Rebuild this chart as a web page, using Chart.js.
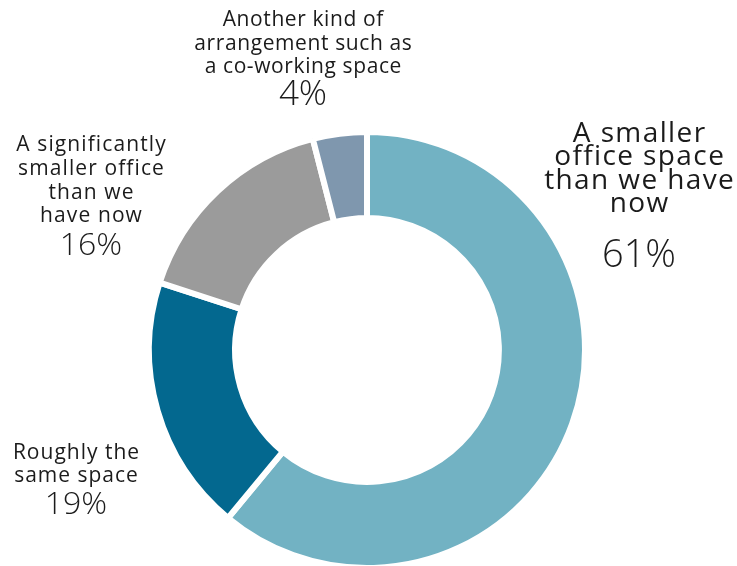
<!DOCTYPE html>
<html>
<head>
<meta charset="utf-8">
<script src="https://cdn.jsdelivr.net/npm/chart.js@4/dist/chart.umd.min.js"></script>
<style>
  html, body { margin: 0; padding: 0; background: #fff; }
  #wrap { width: 737px; height: 566px; }
</style>
</head>
<body>
<div id="wrap"><canvas id="officeChart" width="737" height="566"></canvas></div>
<script>
// ── Future office space preference (doughnut) ──────────────
const categories = [
  'A smaller office space than we have now',
  'Roughly the same space',
  'A significantly smaller office than we have now',
  'Another kind of arrangement such as a co-working space'
];
const shares = [61, 19, 16, 4];
const sliceColors = ['#72B2C3', '#03688F', '#9B9B9B', '#7F97AE'];

// label text split into lines, same order as categories
const labelLines = [
  ['A smaller', 'office space', 'than we have', 'now'],
  ['Roughly the', 'same space'],
  ['A significantly', 'smaller office', 'than we', 'have now'],
  ['Another kind of', 'arrangement such as', 'a co-working space']
];

// where each label block sits (centre x, first baseline y) and how big
const labelLayout = [
  { x: 639, y: 141.5, size: 28, track: 1.4, lead: 23.5, pctSize: 38, pctY: 267 },
  { x: 76,  y: 458.5, size: 21, track: 1.0, lead: 23.5, pctSize: 32, pctY: 513.5 },
  { x: 91,  y: 151,   size: 21, track: 1.1, lead: 23.8, pctSize: 32, pctY: 255 },
  { x: 303, y: 26,    size: 21, track: 0.6, lead: 23.5, pctSize: 35, pctY: 105 }
];

const TEXT_FONT = '"Open Sans", Lato, sans-serif';

const outsideLabels = {
  id: 'outsideLabels',
  afterDraw(chart) {
    const { ctx } = chart;
    const values = chart.data.datasets[0].data;
    ctx.save();
    ctx.fillStyle = '#1b1b1b';
    ctx.textAlign = 'center';
    ctx.textBaseline = 'alphabetic';
    labelLines.forEach((lines, i) => {
      const L = labelLayout[i];
      ctx.font = `400 ${L.size}px ${TEXT_FONT}`;
      ctx.letterSpacing = L.track + 'px';
      // letterSpacing adds trailing space after the last glyph too
      lines.forEach((t, j) => ctx.fillText(t, L.x + L.track / 2, L.y + j * L.lead));
      ctx.letterSpacing = '0px';
      ctx.font = `300 ${L.pctSize}px ${TEXT_FONT}`;
      ctx.fillText(values[i] + '%', L.x, L.pctY);
    });
    ctx.restore();
  }
};

new Chart(document.getElementById('officeChart'), {
  type: 'doughnut',
  data: {
    labels: categories,
    datasets: [{
      data: shares,
      backgroundColor: sliceColors,
      borderColor: '#ffffff',
      borderWidth: 6,
      hoverOffset: 0
    }]
  },
  options: {
    responsive: false,
    animation: false,
    radius: 218,
    cutout: '60.5%',
    layout: { padding: { left: 151, right: 154, top: 134, bottom: 0 } },
    plugins: {
      legend: { display: false },
      tooltip: { enabled: false }
    }
  },
  plugins: [outsideLabels]
});
</script>
</body>
</html>
